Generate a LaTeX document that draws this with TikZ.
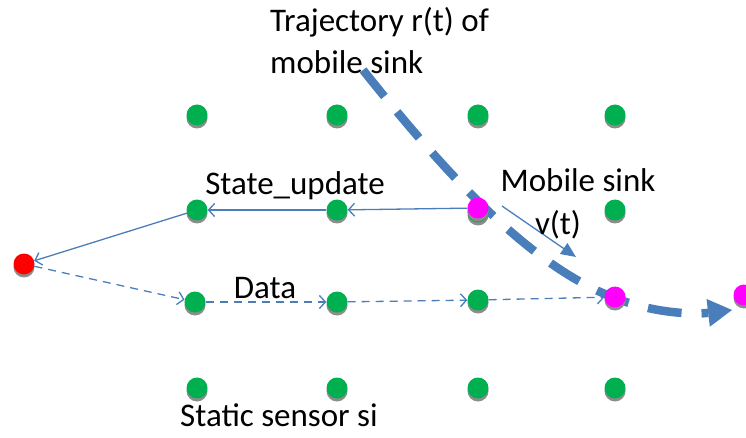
\documentclass[tikz,border=0pt]{standalone}
\usepackage{fontspec}
\setmainfont{Carlito}
\usetikzlibrary{arrows.meta}
\definecolor{linkblue}{RGB}{74,126,187}
\definecolor{sensorgreen}{RGB}{0,176,80}
\definecolor{sinkmagenta}{RGB}{255,0,255}
\definecolor{basered}{RGB}{255,0,0}
\tikzset{
  dot/.style={circle, minimum size=21pt, inner sep=0pt, fill=#1,
    preaction={fill=black!45, transform canvas={yshift=-3pt}}},
  sensor/.style={dot=sensorgreen},
  sink/.style={dot=sinkmagenta},
  base/.style={dot=basered},
  update/.style={draw=linkblue, line width=1.3pt,
    -{Straight Barb[length=6pt,width=13pt,line width=1.3pt]}},
  datalink/.style={update, dash pattern=on 8pt off 6pt},
  lbl/.style={font=\fontsize{33}{39}\selectfont, inner sep=0pt}
}
\begin{document}
\begin{tikzpicture}[x=1pt,y=-1pt]
\useasboundingbox (0,0) rectangle (746,438);

% grid of static sensors
\foreach \c/\x in {1/197,2/337,3/478,4/615}{
  \node[sensor] (a\c) at (\x,115) {};
  \node[sensor] (d\c) at (\x,388) {};
}
\node[sensor] (b1) at (197,210) {};
\node[sensor] (b2) at (337,210) {};
\node[sensor] (b4) at (615,210) {};
\node[sensor] (c1) at (195,302) {};
\node[sensor] (c2) at (337,302) {};
\node[sensor] (c3) at (478,300) {};
\node[sensor] (b3g) at (478,212) {};

% trajectory r(t)
\coordinate (t0) at (363,70);
\coordinate (t1) at (732,310);
\draw[linkblue, line width=8.5pt, dash pattern=on 34pt off 20pt,
  -{Triangle[length=24pt,width=28pt,line width=0pt]}]
  (t0) .. controls (435,160) and (525,265) .. (615,298)
       .. controls (650,312) and (690,315) .. (t1);

% sink positions and base station
\node[sink] (s1) at (478,208) {};
\node[sink] (s2) at (615,297) {};
\node[sink] (s3) at (744,295) {};
\node[base] (r) at (24,264) {};

% state update path
\draw[update] (s1) -- (b2);
\draw[update] (b2) -- (b1);
\draw[update] (b1) -- (r);

% data path
\draw[datalink] (r) -- (c1);
\draw[datalink] (c1) -- (c2);
\draw[datalink] (c2) -- (c3);
\draw[datalink] (c3) -- (s2);

% sink velocity
\coordinate (v0) at (502,206);
\coordinate (v1) at (576,257);
\draw[linkblue, line width=1.3pt, -{Triangle[length=15pt,width=13pt]}] (v0) -- (v1);

% labels
\node[lbl, anchor=west] (traj1) at (270,22) {Trajectory r(t) of};
\node[lbl, anchor=west] (traj2) at (270,62) {mobile sink};
\node[lbl] (su) at (295,186) {State\_update};
\node[lbl] (dt) at (265,288) {Data};
\node[lbl] (ms) at (578,180) {Mobile sink};
\node[lbl] (vt) at (558,225) {v(t)};
\node[lbl, anchor=west] (ss) at (180,415) {Static sensor si};
\end{tikzpicture}
\end{document}
